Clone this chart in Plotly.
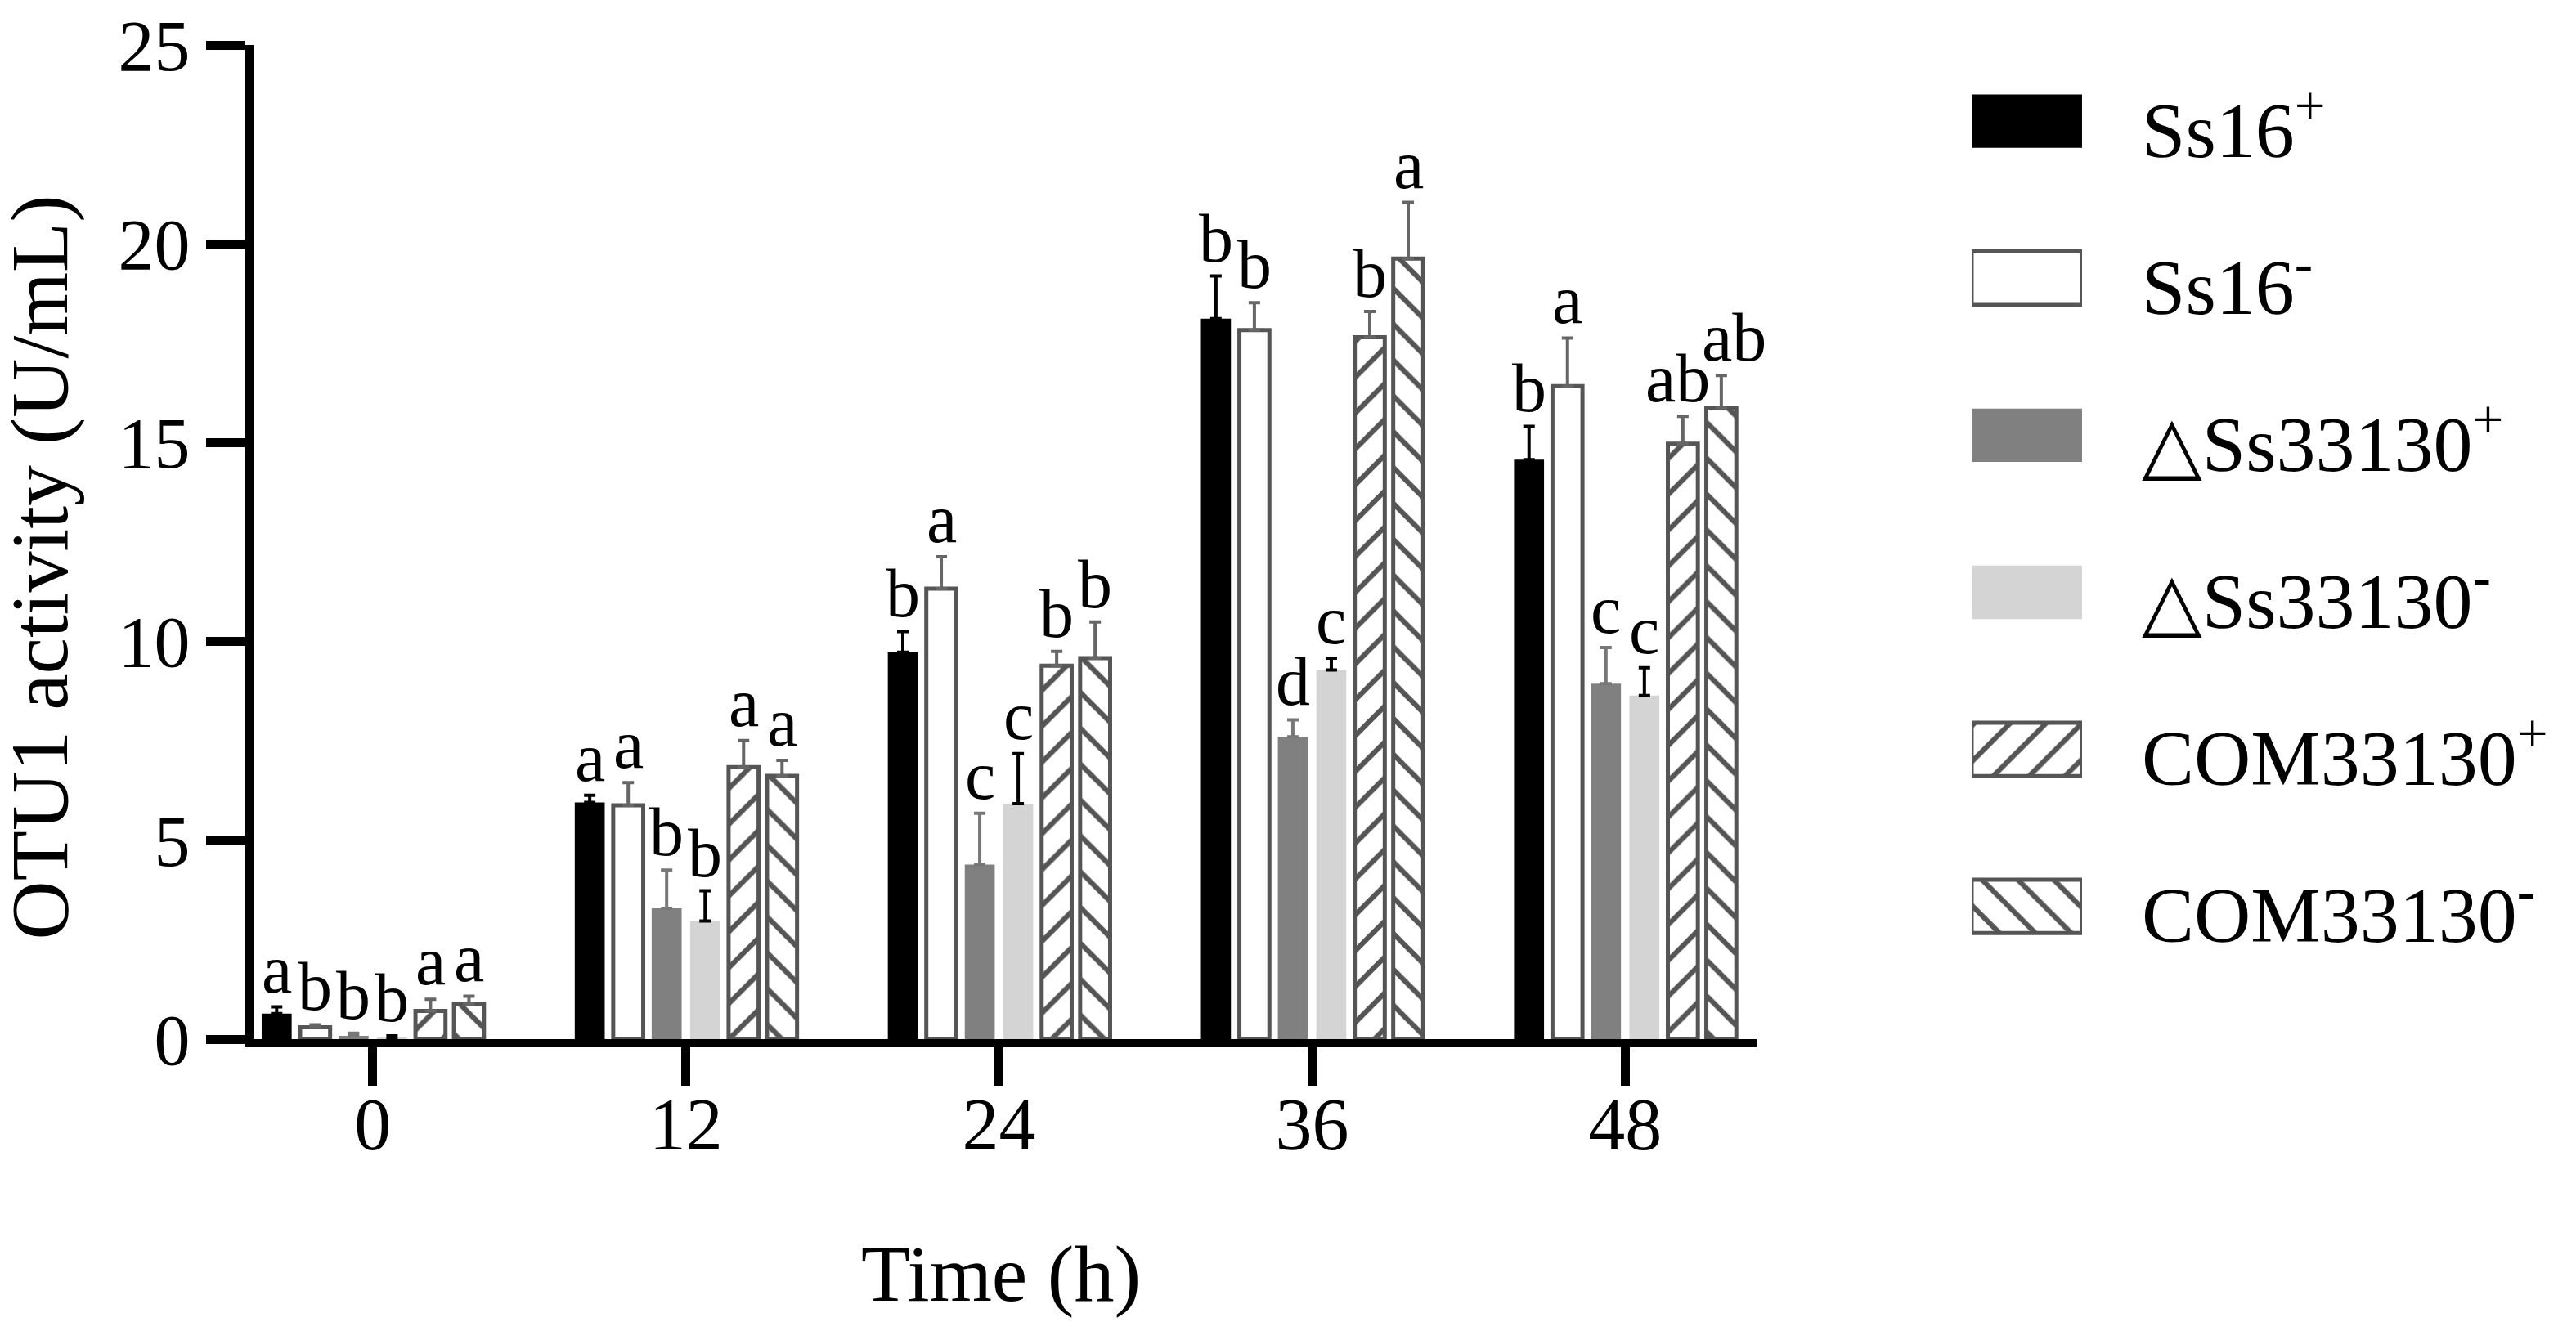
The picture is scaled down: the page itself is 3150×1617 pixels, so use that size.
import plotly.graph_objects as go

# ---- data ----
times = ["0", "12", "24", "36", "48"]
series = ["Ss16<sup>+</sup>", "Ss16<sup>-</sup>", "△Ss33130<sup>+</sup>",
          "△Ss33130<sup>-</sup>", "COM33130<sup>+</sup>", "COM33130<sup>-</sup>"]

ss16_pos = [0.64, 5.95, 9.73, 18.12, 14.57]
ss16_pos_err = [0.17, 0.18, 0.52, 1.07, 0.84]
ss16_neg = [0.30, 5.88, 11.33, 17.83, 16.42]
ss16_neg_err = [0.06, 0.57, 0.80, 0.69, 1.21]
del_pos = [0.08, 3.29, 4.39, 7.60, 8.94]
del_pos_err = [0.07, 0.96, 1.29, 0.43, 0.91]
del_neg = [0.03, 2.97, 5.92, 9.28, 8.64]
del_neg_err = [0.05, 0.76, 1.26, 0.30, 0.70]
com_pos = [0.71, 6.84, 9.39, 17.65, 14.97]
com_pos_err = [0.29, 0.67, 0.36, 0.65, 0.69]
com_neg = [0.89, 6.62, 9.58, 19.63, 15.88]
com_neg_err = [0.19, 0.39, 0.91, 1.41, 0.81]

ss16_pos_lab = ["a", "a", "b", "b", "b"]
ss16_neg_lab = ["b", "a", "a", "b", "a"]
del_pos_lab = ["b", "b", "c", "d", "c"]
del_neg_lab = ["b", "b", "c", "c", "c"]
com_pos_lab = ["a", "a", "b", "b", "ab"]
com_neg_lab = ["a", "a", "b", "a", "ab"]

means = [ss16_pos, ss16_neg, del_pos, del_neg, com_pos, com_neg]
errs = [ss16_pos_err, ss16_neg_err, del_pos_err, del_neg_err, com_pos_err, com_neg_err]
letters = [ss16_pos_lab, ss16_neg_lab, del_pos_lab, del_neg_lab, com_pos_lab, com_neg_lab]

# ---- styles ----
GRAY = "#555555"
FONT = "Liberation Serif, Times New Roman, DejaVu Serif, serif"
hatch = dict(fgcolor=GRAY, bgcolor="white", fgopacity=1, size=31, solidity=0.2)
styles = [
    dict(color="black", line=dict(color="black", width=0)),
    dict(color="white", line=dict(color=GRAY, width=5)),
    dict(color="#808080", line=dict(color="#808080", width=0)),
    dict(color="#d4d4d4", line=dict(color="#d4d4d4", width=0)),
    dict(color="white", line=dict(color=GRAY, width=5), pattern=dict(shape="/", **hatch)),
    dict(color="white", line=dict(color=GRAY, width=5), pattern=dict(shape="\\", **hatch)),
]
err_colors = ["black", "#666666", "#777777", "black", "#666666", "#666666"]
# small sideways nudges of crowded letters (series, time) -> px
nudges = {(4, 4): -6, (5, 4): 16}

BARGAP = 0.263
GROUPGAP = 0.22
n = len(series)
slot = (1 - BARGAP) / n
xi = list(range(len(times)))

fig = go.Figure()
annotations = []
for k in range(n):
    fig.add_trace(go.Bar(
        x=xi, y=means[k], name=series[k], marker=styles[k],
        error_y=dict(type="data", array=errs[k], arrayminus=[0] * len(times),
                     symmetric=False, color=err_colors[k], thickness=4, width=7),
        showlegend=False, xaxis="x", yaxis="y"))
    off = -(1 - BARGAP) / 2 + slot * (k + 0.5)
    for i in xi:
        annotations.append(dict(
            x=i + off, y=means[k][i] + errs[k][i], xref="x", yref="y",
            text=letters[k][i], showarrow=False, yanchor="bottom", yshift=-2,
            xshift=nudges.get((k, i), 0),
            font=dict(family=FONT, size=84, color="black")))

# legend drawn as a small side panel of swatches
for k in range(n):
    fig.add_trace(go.Bar(
        x=[1], y=[k], base=0, orientation="h", width=0.34, marker=styles[k],
        showlegend=False, xaxis="x2", yaxis="y2", hoverinfo="skip"))
    annotations.append(dict(
        x=0.810, y=k, xref="paper", yref="y2", text=series[k], showarrow=False,
        xanchor="left", yanchor="middle", yshift=-4,
        font=dict(family=FONT, size=96, color="black")))

annotations.append(dict(
    x=-0.092, y=0.475, xref="paper", yref="paper", text="OTU1 activity (U/mL)",
    textangle=-90, showarrow=False, xanchor="center", yanchor="middle",
    font=dict(family=FONT, size=100, color="black")))
annotations.append(dict(
    x=0.3209, y=-0.236, xref="paper", yref="paper", text="Time (h)",
    showarrow=False, xanchor="center", yanchor="middle",
    font=dict(family=FONT, size=98, color="black")))

fig.update_layout(
    width=3150, height=1617,
    margin=dict(l=302, r=0, t=35, b=354),
    paper_bgcolor="white", plot_bgcolor="white",
    barmode="group", bargap=BARGAP, bargroupgap=GROUPGAP,
    font=dict(family=FONT, color="black"),
    annotations=annotations,
    xaxis=dict(domain=[0, 0.6454], range=[-0.381, 4.42], tickvals=xi, ticktext=times,
               showline=True, linecolor="black", linewidth=10,
               ticks="outside", ticklen=47, tickwidth=11, tickcolor="black",
               tickfont=dict(family=FONT, size=90, color="black"),
               ticklabelstandoff=-30, showgrid=False, zeroline=False),
    yaxis=dict(range=[0, 25], tickvals=[0, 5, 10, 15, 20, 25],
               showline=True, linecolor="black", linewidth=11,
               ticks="outside", ticklen=47, tickwidth=11, tickcolor="black",
               tickfont=dict(family=FONT, size=88, color="black"),
               ticklabelstandoff=2, ticklabeloverflow="allow",
               showgrid=False, zeroline=False),
    xaxis2=dict(domain=[0.7377, 0.7851], range=[0, 1], visible=False, anchor="y2"),
    yaxis2=dict(domain=[0, 1], range=[5.845, -0.485], visible=False, anchor="x2"),
)

fig.write_html("out.html")
